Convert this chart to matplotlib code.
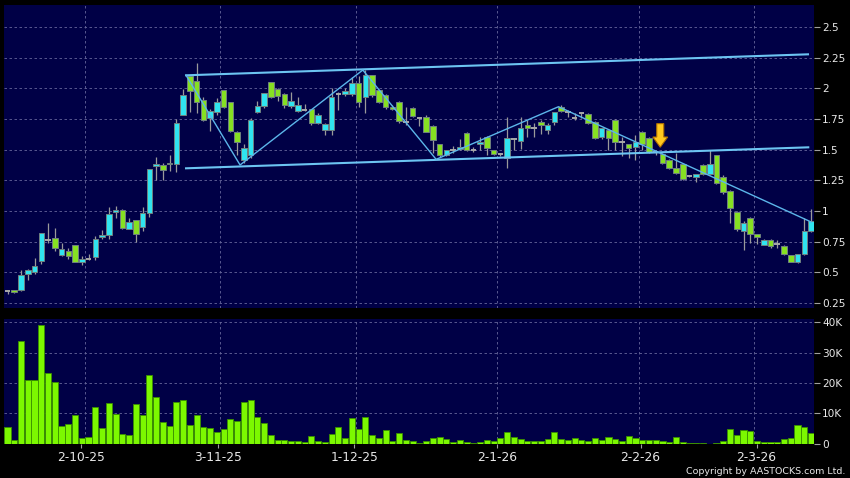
import matplotlib
matplotlib.use("Agg")
import matplotlib.pyplot as plt
import numpy as np
from matplotlib.patches import Polygon

# ---------------- data ----------------
opens = [0.35, 0.356, 0.355, 0.484, 0.505, 0.595, 0.761, 0.782, 0.639, 0.672,
         0.72, 0.582, 0.609, 0.627, 0.786, 0.802, 0.99, 1.005, 0.851, 0.93,
         0.867, 0.986, 1.37, 1.378, 1.39, 1.383, 1.78, 2.10, 2.062, 1.905,
         1.755, 1.81, 1.984, 1.886, 1.646, 1.413, 1.454, 1.807, 1.856, 2.05,
         1.997, 1.956, 1.853, 1.817, 1.823, 1.829, 1.72, 1.658, 1.66, 1.95,
         1.951, 1.951, 2.041, 1.93, 2.105, 1.986, 1.945, 1.85, 1.891, 1.728,
         1.84, 1.762, 1.77, 1.69, 1.544, 1.455, 1.497, 1.503, 1.633, 1.50,
         1.544, 1.606, 1.497, 1.462, 1.429, 1.59, 1.57, 1.70, 1.68, 1.724,
         1.66, 1.728, 1.85, 1.81, 1.755, 1.80, 1.788, 1.728, 1.60, 1.66,
         1.742, 1.56, 1.544, 1.524, 1.646, 1.593, 1.478, 1.462, 1.416, 1.348,
         1.381, 1.288, 1.28, 1.375, 1.299, 1.456, 1.28, 1.163, 0.994, 0.839,
         0.945, 0.81, 0.723, 0.764, 0.73, 0.717, 0.641, 0.582, 0.647, 0.839]
highs = [0.356, 0.36, 0.52, 0.525, 0.614, 0.82, 0.902, 0.86, 0.741, 0.696,
         0.72, 0.63, 0.65, 0.80, 0.843, 1.035, 1.04, 1.02, 0.94, 0.93,
         1.035, 1.34, 1.44, 1.39, 1.457, 1.75, 1.995, 2.10, 2.206, 1.93,
         1.83, 1.92, 1.99, 1.89, 1.65, 1.55, 1.76, 1.90, 1.96, 2.05,
         2.0, 1.96, 1.97, 1.93, 1.87, 1.83, 1.80, 1.72, 2.0, 1.972,
         2.0, 2.095, 2.10, 2.149, 2.11, 1.99, 1.95, 1.86, 1.90, 1.85,
         1.85, 1.77, 1.78, 1.70, 1.55, 1.50, 1.53, 1.584, 1.64, 1.52,
         1.60, 1.61, 1.50, 1.47, 1.77, 1.593, 1.77, 1.742, 1.715, 1.745,
         1.715, 1.81, 1.86, 1.82, 1.796, 1.81, 1.80, 1.73, 1.68, 1.67,
         1.75, 1.60, 1.55, 1.62, 1.65, 1.60, 1.50, 1.47, 1.42, 1.47,
         1.39, 1.295, 1.30, 1.38, 1.50, 1.46, 1.29, 1.17, 1.00, 0.918,
         0.95, 0.815, 0.77, 0.77, 0.76, 0.72, 0.645, 0.65, 0.94, 1.02]
lows = [0.322, 0.335, 0.35, 0.44, 0.49, 0.568, 0.742, 0.67, 0.635, 0.61,
        0.585, 0.56, 0.60, 0.60, 0.77, 0.77, 0.94, 0.85, 0.85, 0.745,
        0.84, 0.955, 1.25, 1.25, 1.33, 1.32, 1.78, 1.81, 1.80, 1.73,
        1.652, 1.78, 1.84, 1.64, 1.456, 1.39, 1.43, 1.80, 1.84, 1.92,
        1.90, 1.84, 1.84, 1.81, 1.815, 1.70, 1.71, 1.62, 1.62, 1.823,
        1.94, 1.94, 1.85, 1.80, 1.93, 1.88, 1.83, 1.82, 1.72, 1.70,
        1.77, 1.69, 1.64, 1.47, 1.44, 1.45, 1.47, 1.50, 1.49, 1.48,
        1.50, 1.46, 1.46, 1.45, 1.35, 1.50, 1.505, 1.60, 1.606, 1.63,
        1.63, 1.70, 1.81, 1.77, 1.742, 1.755, 1.71, 1.59, 1.59, 1.497,
        1.497, 1.45, 1.43, 1.416, 1.50, 1.47, 1.46, 1.38, 1.34, 1.30,
        1.25, 1.28, 1.239, 1.29, 1.29, 1.22, 1.14, 0.90, 0.84, 0.68,
        0.737, 0.73, 0.72, 0.70, 0.70, 0.64, 0.585, 0.58, 0.64, 0.83]
closes = [0.35, 0.338, 0.476, 0.517, 0.549, 0.818, 0.761, 0.696, 0.688, 0.636,
          0.587, 0.606, 0.609, 0.77, 0.804, 0.973, 1.005, 0.864, 0.908, 0.815,
          0.98, 1.34, 1.386, 1.332, 1.38, 1.715, 1.943, 1.978, 1.886, 1.742,
          1.817, 1.89, 1.845, 1.65, 1.56, 1.511, 1.74, 1.858, 1.96, 1.93,
          1.935, 1.86, 1.90, 1.867, 1.823, 1.715, 1.782, 1.71, 1.93, 1.95,
          1.98, 2.041, 1.891, 2.105, 1.945, 1.891, 1.85, 1.83, 1.736, 1.728,
          1.775, 1.762, 1.645, 1.58, 1.455, 1.497, 1.497, 1.522, 1.50, 1.50,
          1.562, 1.511, 1.467, 1.462, 1.593, 1.59, 1.676, 1.68, 1.68, 1.697,
          1.699, 1.81, 1.815, 1.81, 1.755, 1.80, 1.715, 1.598, 1.676, 1.593,
          1.56, 1.56, 1.516, 1.565, 1.544, 1.478, 1.478, 1.389, 1.348, 1.307,
          1.258, 1.288, 1.299, 1.299, 1.381, 1.231, 1.152, 1.022, 0.851, 0.90,
          0.81, 0.786, 0.764, 0.717, 0.73, 0.647, 0.587, 0.647, 0.839, 0.918]
volumes_k = [5.4, 1.1, 33.8, 21.0, 20.9, 39.1, 23.3, 20.3, 5.7, 6.4,
             9.5, 1.9, 2.1, 12.0, 5.2, 13.4, 9.7, 3.1, 2.8, 13.0,
             9.4, 22.7, 15.3, 7.1, 5.8, 13.8, 14.3, 6.3, 9.6, 5.5,
             5.1, 4.0, 5.0, 8.0, 7.6, 13.7, 14.3, 8.7, 6.7, 2.8,
             1.3, 1.2, 1.0, 1.0, 0.4, 2.4, 1.0, 0.4, 3.3, 5.4,
             1.8, 8.6, 4.7, 8.9, 2.8, 2.0, 4.6, 1.0, 3.6, 1.2,
             1.0, 0.3, 0.9, 1.9, 2.3, 1.4, 0.7, 1.1, 0.6, 0.1,
             0.7, 1.3, 0.8, 1.8, 4.0, 2.3, 1.4, 0.9, 0.9, 1.0,
             1.5, 3.7, 1.6, 1.3, 1.9, 1.1, 0.8, 1.8, 1.1, 2.2,
             1.4, 0.8, 2.5, 1.8, 1.2, 1.2, 1.1, 0.8, 0.4, 2.2,
             0.7, 0.2, 0.1, 0.3, 0.0, 0.3, 1.0, 4.7, 2.9, 4.4,
             4.2, 0.9, 0.4, 0.4, 0.6, 1.4, 1.9, 6.0, 5.6, 3.4]

date_labels = ["2-10-25", "3-11-25", "1-12-25", "2-1-26", "2-2-26", "2-3-26"]
date_tick_pos = [10.93, 31.23, 51.38, 72.56, 93.75, 110.93]
date_grid_pos = [11.5, 31.5, 51.6, 72.5, 93.5, 110.5]

price_ticks = [0.25, 0.5, 0.75, 1.0, 1.25, 1.5, 1.75, 2.0, 2.25, 2.5]
price_tick_labels = ["0.25", "0.5", "0.75", "1", "1.25", "1.5", "1.75", "2", "2.25", "2.5"]
vol_ticks = [0, 10, 20, 30, 40]
vol_tick_labels = ["0", "10K", "20K", "30K", "40K"]

# trendlines (candle index, price)
channel_upper_x = [26.44, 118.55]
channel_upper_y = [2.106, 2.277]
channel_lower_x = [26.44, 118.59]
channel_lower_y = [1.348, 1.519]
zigzag_x = [26.44, 34.44, 52.62, 63.48, 81.6, 119.04]
zigzag_y = [2.106, 1.375, 2.149, 1.421, 1.85, 0.910]
arrow_x = 96.67
arrow_top = 1.712
arrow_neck = 1.603
arrow_tip = 1.520

# ---------------- style ----------------
BG_FIG = "#000000"
BG_AX = "#000046"
GRID = "#66669a"
UP = "#30e4f0"
DOWN = "#86e022"
EDGE = "#6f8080"
WICK = "#9a9a9a"
DOJI = "#a8a8a8"
VOL = "#7cf800"
VOL_EDGE = "#3a9000"
LINE = "#5cb6ea"
LINE2 = "#6cc4f2"
TXT = "#e8e8e8"

fig = plt.figure(figsize=(8.5, 4.78), dpi=100, facecolor=BG_FIG)
W, H = 850.0, 478.0
ax = fig.add_axes([4 / W, 1 - 308 / H, 810 / W, 303 / H], facecolor=BG_AX)
axv = fig.add_axes([4 / W, 1 - 444 / H, 810 / W, 125 / H], facecolor=BG_AX)

n = len(opens)
x = np.arange(n)
o = np.array(opens); h = np.array(highs); l = np.array(lows); c = np.array(closes)

# gridlines
for a in (ax, axv):
    for g in date_grid_pos:
        a.axvline(g, color=GRID, lw=0.6, ls=(0, (3, 3)), zorder=0.5)
for yv in price_ticks:
    ax.axhline(yv, color=GRID, lw=0.6, ls=(0, (3, 3)), zorder=0.5)
for yv in vol_ticks[1:]:
    axv.axhline(yv, color=GRID, lw=0.6, ls=(0, (3, 3)), zorder=0.5)

# wicks
ax.vlines(x, l, h, color=WICK, lw=0.9, zorder=2)

# bodies
bw = 0.82
for i in range(n):
    if abs(c[i] - o[i]) < 1e-9:
        ax.hlines(o[i], i - bw / 2, i + bw / 2, color=DOJI, lw=1.4, zorder=3)
    else:
        col = UP if c[i] > o[i] else DOWN
        bot = min(o[i], c[i])
        ax.bar(i, abs(c[i] - o[i]), bottom=bot, width=bw, color=col,
               edgecolor=EDGE, linewidth=0.7, zorder=3)

# trendlines
ax.plot(channel_upper_x, channel_upper_y, color=LINE2, lw=1.5, zorder=4)
ax.plot(channel_lower_x, channel_lower_y, color=LINE2, lw=1.5, zorder=4)
ax.plot(zigzag_x, zigzag_y, color=LINE, lw=1.0, zorder=4)

# arrow marker
sw, hw = 0.52, 1.1
arrow = Polygon([(arrow_x - sw, arrow_top), (arrow_x + sw, arrow_top),
                 (arrow_x + sw, arrow_neck), (arrow_x + hw, arrow_neck),
                 (arrow_x, arrow_tip), (arrow_x - hw, arrow_neck),
                 (arrow_x - sw, arrow_neck)], closed=True,
                facecolor="#ffc81e", edgecolor="#b07000", lw=0.8, zorder=6)
ax.add_patch(arrow)

# volume
axv.bar(x, volumes_k, width=0.9, color=VOL, edgecolor=VOL_EDGE, linewidth=0.6, zorder=3)

# axes limits and ticks
for a in (ax, axv):
    a.set_xlim(-0.52, 119.44)
    for s in a.spines.values():
        s.set_visible(False)
    a.yaxis.tick_right()
    a.tick_params(axis="y", which="both", length=4, width=0.8, color="#a0a0a0",
                  labelcolor=TXT, labelsize=7.6, pad=2)

ax.set_ylim(0.2094, 2.679)
ax.set_yticks(price_ticks)
ax.set_yticklabels(price_tick_labels)
ax.set_xticks([])

axv.set_ylim(-0.1, 41.1)
axv.set_yticks(vol_ticks)
axv.set_yticklabels(vol_tick_labels)
axv.set_xticks(date_tick_pos)
axv.set_xticklabels(date_labels)
axv.tick_params(axis="x", length=3, width=0.8, color="#a0a0a0", labelcolor=TXT,
                labelsize=8.8, pad=2)

fig.text(845 / W, 1 - 471 / H, "Copyright by AASTOCKS.com Ltd.", color=TXT,
         fontsize=6.8, ha="right", va="center")

fig.savefig("out.png", dpi=100, facecolor=BG_FIG)
